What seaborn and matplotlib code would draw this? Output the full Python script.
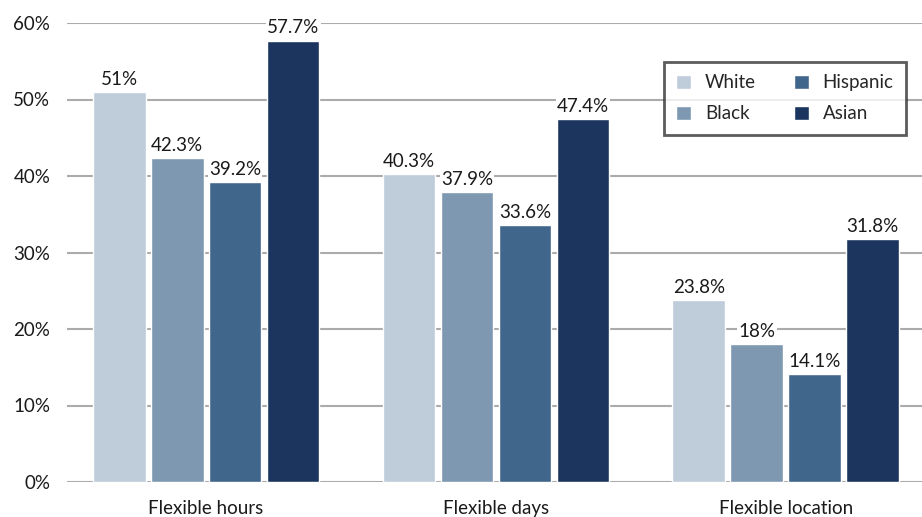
import matplotlib
matplotlib.use("Agg")
import matplotlib.pyplot as plt
import seaborn as sns
import pandas as pd

categories = ["Flexible hours", "Flexible days", "Flexible location"]
groups = ["White", "Black", "Hispanic", "Asian"]
white = [51.0, 40.3, 23.8]
black = [42.3, 37.9, 18.0]
hispanic = [39.2, 33.6, 14.1]
asian = [57.7, 47.4, 31.8]
value_labels = {
    "White": ["51%", "40.3%", "23.8%"],
    "Black": ["42.3%", "37.9%", "18%"],
    "Hispanic": ["39.2%", "33.6%", "14.1%"],
    "Asian": ["57.7%", "47.4%", "31.8%"],
}
yticks = [0, 10, 20, 30, 40, 50, 60]
colors = ["#BFCCDA", "#7F98B1", "#41668B", "#1C355E"]

rows = []
for g, vals in zip(groups, [white, black, hispanic, asian]):
    for c, v in zip(categories, vals):
        rows.append({"category": c, "group": g, "value": v})
df = pd.DataFrame(rows)

sns.set_theme(style="white")
plt.rcParams["font.family"] = ["Lato", "DejaVu Sans"]
FS = 13.5

fig = plt.figure(figsize=(9.22, 5.17), dpi=100)
ax = fig.add_axes([67 / 922, 35 / 517, 855 / 922, 459 / 517])

sns.barplot(data=df, x="category", y="value", hue="group", order=categories,
            hue_order=groups, palette=colors, width=0.8, gap=0.09,
            saturation=1, errorbar=None, ax=ax, zorder=3)

for cont, g in zip(ax.containers, groups):
    ax.bar_label(cont, labels=value_labels[g], padding=3, fontsize=FS,
                 color="#1a1a1a", zorder=5,
                 bbox=dict(facecolor="white", edgecolor="none", pad=1.0))

ax.set_ylim(0, 60)
ax.set_xlim(-0.48, 2.47)
ax.set_yticks(yticks)
ax.set_yticklabels([f"{t}%" for t in yticks], fontsize=FS, color="#1a1a1a")
ax.tick_params(axis="x", labelsize=FS, colors="#1a1a1a", length=0, pad=13)
ax.tick_params(axis="y", length=0, pad=12)
ax.set_xlabel("")
ax.set_ylabel("")
ax.yaxis.grid(True, color="#ABABAB", linewidth=1.5, zorder=0)
ax.set_axisbelow(True)
for s in ["top", "right", "left", "bottom"]:
    ax.spines[s].set_visible(False)

leg = ax.legend(ncol=2, loc="upper right", bbox_to_anchor=(0.992, 0.935),
                fontsize=FS, frameon=True, fancybox=False,
                handlelength=0.8, handleheight=0.8, columnspacing=2.0,
                borderpad=0.65, labelspacing=0.75, handletextpad=0.75)
leg.get_frame().set_edgecolor("#333333")
leg.get_frame().set_linewidth(2)
leg.get_frame().set_facecolor("white")
leg.set_zorder(6)

fig.savefig("out.png", dpi=100)
